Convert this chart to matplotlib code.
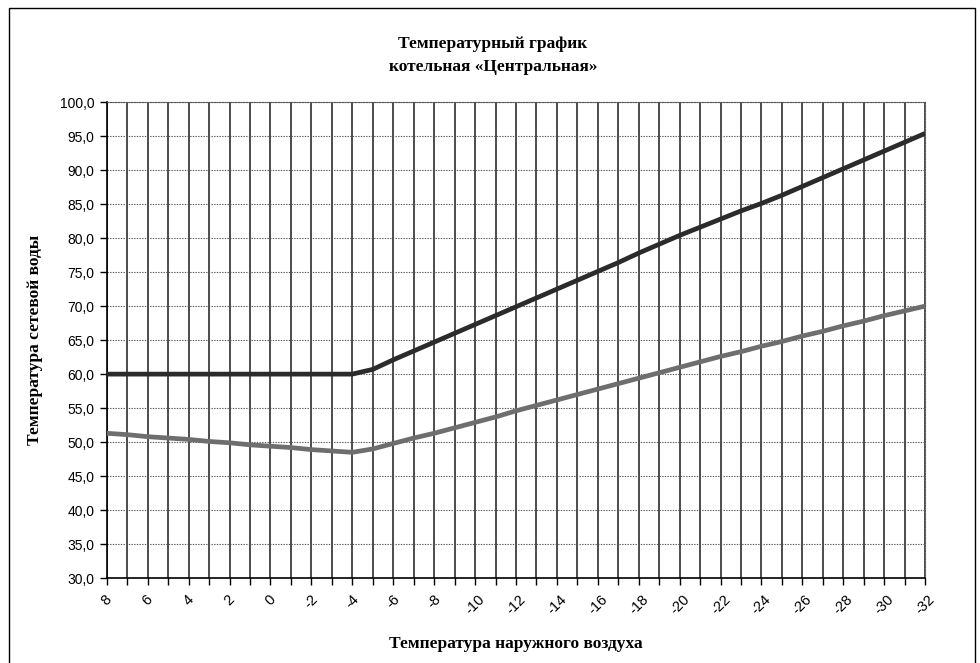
import matplotlib.pyplot as plt
from matplotlib.patches import Rectangle

# Температура наружного воздуха (категории оси X)
naruzh = [8, 7, 6, 5, 4, 3, 2, 1, 0, -1, -2, -3, -4, -5, -6, -7, -8, -9, -10,
          -11, -12, -13, -14, -15, -16, -17, -18, -19, -20, -21, -22, -23, -24,
          -25, -26, -27, -28, -29, -30, -31, -32]

# Подача (верхняя линия)
podacha = [60.0, 60.0, 60.0, 60.0, 60.0, 60.0, 60.0, 60.0, 60.0, 60.0, 60.0,
           60.0, 60.0, 60.7, 62.1, 63.4, 64.7, 66.0, 67.3, 68.6, 69.9, 71.2,
           72.5, 73.8, 75.1, 76.4, 77.8, 79.1, 80.4, 81.6, 82.8, 84.0, 85.1,
           86.3, 87.6, 88.9, 90.2, 91.5, 92.8, 94.1, 95.4]

# Обратка (нижняя линия)
obratka = [51.3, 51.1, 50.8, 50.6, 50.4, 50.1, 49.9, 49.6, 49.4, 49.2, 48.9,
           48.7, 48.5, 49.0, 49.8, 50.6, 51.3, 52.1, 52.9, 53.7, 54.6, 55.4,
           56.2, 57.0, 57.8, 58.6, 59.4, 60.2, 61.0, 61.8, 62.6, 63.3, 64.1,
           64.8, 65.6, 66.3, 67.1, 67.8, 68.6, 69.3, 70.0]

x_podpisi = [8, 6, 4, 2, 0, -2, -4, -6, -8, -10, -12, -14, -16, -18, -20,
             -22, -24, -26, -28, -30, -32]
y_podpisi = [30, 35, 40, 45, 50, 55, 60, 65, 70, 75, 80, 85, 90, 95, 100]

serif = ["Liberation Serif", "DejaVu Serif"]
sans = ["Liberation Sans", "DejaVu Sans"]

fig = plt.figure(figsize=(9.8, 6.63), dpi=100)
ax = fig.add_axes([0.109, 0.128, 0.835, 0.718])

# рамка всей диаграммы
fig.patches.append(Rectangle((0.009, -0.01), 0.986, 0.998,
                             transform=fig.transFigure, fill=False,
                             edgecolor="black", linewidth=1.0))

# сетка: вертикальные сплошные, горизонтальные пунктирные
for t in naruzh:
    ax.axvline(t, color="#2e2e2e", linewidth=1.2, zorder=1)
for v in y_podpisi:
    ax.axhline(v, color="#555555", linewidth=0.8, linestyle=(0, (1.2, 1.2)),
               zorder=1)

ax.plot(naruzh, podacha, color="#2b2b2b", linewidth=3.4,
        solid_capstyle="butt", zorder=3)
ax.plot(naruzh, obratka, color="#6e6e6e", linewidth=3.4,
        solid_capstyle="butt", zorder=3)

ax.set_xlim(8, -32)
ax.set_ylim(30, 100)

ax.set_xticks(naruzh, minor=True)
ax.set_xticks(x_podpisi)
ax.set_xticklabels([str(t) for t in x_podpisi], rotation=45,
                   ha="center", va="top", family=sans, fontsize=10.5)
ax.set_yticks(y_podpisi)
ax.set_yticklabels([f"{v:.1f}".replace(".", ",") for v in y_podpisi],
                   family=sans, fontsize=10)

ax.tick_params(axis="x", which="both", direction="out", length=5,
               width=1.0, color="black", pad=5)
ax.tick_params(axis="y", direction="out", length=5, width=1.0,
               color="black", pad=4)

for side in ["top", "right"]:
    ax.spines[side].set_linestyle((0, (1.2, 1.2)))
    ax.spines[side].set_color("#555555")
    ax.spines[side].set_linewidth(0.8)
for side in ["left", "bottom"]:
    ax.spines[side].set_color("black")
    ax.spines[side].set_linewidth(1.2)

fig.text(0.503, 0.916, "Температурный график\nкотельная «Центральная»",
         ha="center", va="center", family=serif, fontweight="bold",
         fontsize=12.5, linespacing=1.6)
ax.set_xlabel("Температура наружного воздуха", family=serif,
              fontweight="bold", fontsize=12.5, labelpad=14)
ax.set_ylabel("Температура сетевой воды", family=serif,
              fontweight="bold", fontsize=12.5, labelpad=12)

fig.savefig("out.png", dpi=100)
